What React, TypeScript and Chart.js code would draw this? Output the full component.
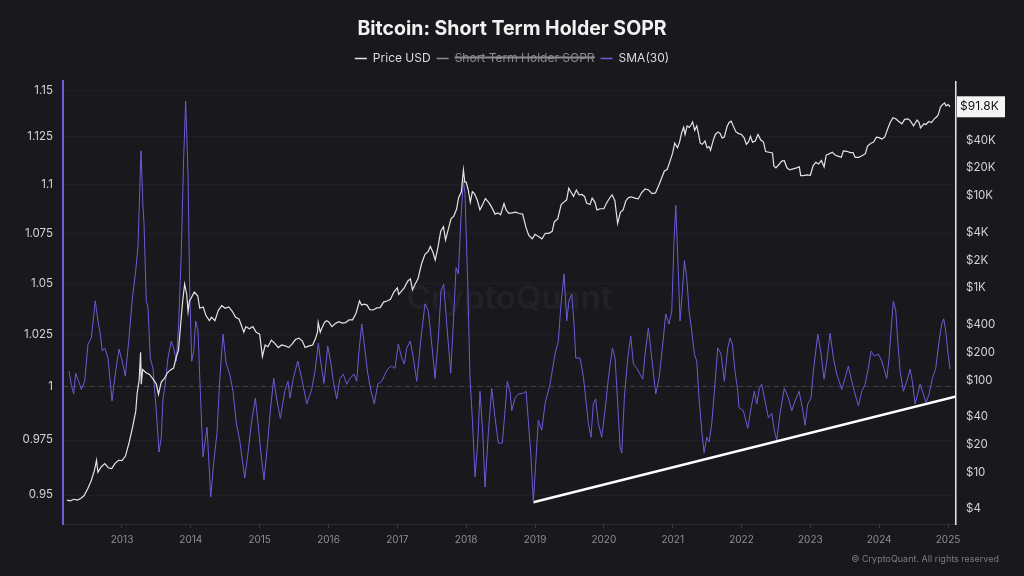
import React, { useEffect, useRef } from 'react';
import { Chart, registerables } from 'chart.js';

Chart.register(...registerables);

const TITLE = 'Bitcoin: Short Term Holder SOPR';
const LEGEND_PRICE = 'Price USD';
const LEGEND_SOPR = 'Short Term Holder SOPR';
const LEGEND_SMA = 'SMA(30)';
const WATERMARK = 'CryptoQuant';
const CREDIT = '© CryptoQuant. All rights reserved';
const LAST_PRICE_LABEL = '$91.8K';

const xTicks = [2013, 2014, 2015, 2016, 2017, 2018, 2019, 2020, 2021, 2022, 2023, 2024, 2025];
const soprTicks = [0.95, 0.975, 1, 1.025, 1.05, 1.075, 1.1, 1.125, 1.15];
const priceTicks = [4, 10, 20, 40, 100, 200, 400, 1000, 2000, 4000, 10000, 20000, 40000];

// Price USD (right, log axis)
const priceYears = [
  2012.20, 2012.25, 2012.30, 2012.35, 2012.40, 2012.45, 2012.50, 2012.55, 2012.60, 2012.63, 2012.65, 2012.70, 2012.75, 2012.80, 2012.85, 2012.90, 2012.95,
  2013.00, 2013.05, 2013.10, 2013.15, 2013.20, 2013.22, 2013.25, 2013.27, 2013.28, 2013.30, 2013.35, 2013.40, 2013.45, 2013.50, 2013.53, 2013.57, 2013.62, 2013.66, 2013.70, 2013.75, 2013.79, 2013.82, 2013.85, 2013.88, 2013.91, 2013.94, 2013.96, 2013.98,
  2014.00, 2014.05, 2014.10, 2014.13, 2014.18, 2014.22, 2014.27, 2014.30, 2014.35, 2014.40, 2014.45, 2014.50, 2014.55, 2014.60, 2014.65, 2014.70, 2014.73, 2014.77, 2014.80, 2014.85, 2014.90, 2014.95,
  2015.00, 2015.04, 2015.08, 2015.12, 2015.17, 2015.22, 2015.27, 2015.32, 2015.37, 2015.42, 2015.47, 2015.52, 2015.57, 2015.62, 2015.66, 2015.72, 2015.77, 2015.81, 2015.84, 2015.85, 2015.88, 2015.90, 2015.94, 2015.97,
  2016.00, 2016.05, 2016.10, 2016.15, 2016.20, 2016.25, 2016.30, 2016.35, 2016.40, 2016.45, 2016.48, 2016.52, 2016.56, 2016.60, 2016.65, 2016.70, 2016.75, 2016.80, 2016.85, 2016.90, 2016.95,
  2017.00, 2017.02, 2017.06, 2017.10, 2017.15, 2017.19, 2017.22, 2017.26, 2017.30, 2017.35, 2017.40, 2017.45, 2017.48, 2017.52, 2017.55, 2017.59, 2017.63, 2017.67, 2017.70, 2017.74, 2017.78, 2017.82, 2017.86, 2017.89, 2017.93, 2017.96, 2017.98,
  2018.00, 2018.03, 2018.06, 2018.09, 2018.12, 2018.16, 2018.20, 2018.24, 2018.28, 2018.33, 2018.37, 2018.42, 2018.46, 2018.50, 2018.55, 2018.58, 2018.62, 2018.67, 2018.72, 2018.77, 2018.82, 2018.87, 2018.91, 2018.96,
  2019.00, 2019.05, 2019.10, 2019.15, 2019.20, 2019.25, 2019.28, 2019.33, 2019.38, 2019.42, 2019.46, 2019.49, 2019.52, 2019.56, 2019.60, 2019.64, 2019.68, 2019.72, 2019.75, 2019.80, 2019.83, 2019.87, 2019.90, 2019.95,
  2020.00, 2020.04, 2020.08, 2020.12, 2020.16, 2020.20, 2020.24, 2020.28, 2020.32, 2020.36, 2020.40, 2020.45, 2020.50, 2020.55, 2020.60, 2020.65, 2020.70, 2020.75, 2020.80, 2020.84, 2020.88, 2020.92, 2020.96,
  2021.00, 2021.03, 2021.07, 2021.10, 2021.13, 2021.16, 2021.18, 2021.21, 2021.24, 2021.27, 2021.29, 2021.32, 2021.35, 2021.38, 2021.40, 2021.43, 2021.47, 2021.50, 2021.53, 2021.55, 2021.59, 2021.62, 2021.66, 2021.69, 2021.72, 2021.75, 2021.79, 2021.82, 2021.85, 2021.88, 2021.92, 2021.96,
  2022.00, 2022.04, 2022.07, 2022.10, 2022.13, 2022.16, 2022.20, 2022.24, 2022.28, 2022.32, 2022.35, 2022.40, 2022.45, 2022.47, 2022.50, 2022.55, 2022.58, 2022.62, 2022.66, 2022.70, 2022.75, 2022.80, 2022.84, 2022.86, 2022.90, 2022.95,
  2023.00, 2023.04, 2023.08, 2023.12, 2023.16, 2023.20, 2023.23, 2023.28, 2023.32, 2023.36, 2023.40, 2023.45, 2023.48, 2023.53, 2023.58, 2023.62, 2023.65, 2023.70, 2023.75, 2023.80, 2023.83, 2023.88, 2023.92, 2023.96,
  2024.00, 2024.04, 2024.08, 2024.12, 2024.16, 2024.20, 2024.24, 2024.28, 2024.33, 2024.37, 2024.42, 2024.45, 2024.50, 2024.55, 2024.58, 2024.60, 2024.65, 2024.68, 2024.72, 2024.76, 2024.80, 2024.84, 2024.86, 2024.89, 2024.92, 2024.95, 2024.97, 2025.00, 2025.03,
];
const priceUsd = [
  5.0, 4.9, 5.1, 5.0, 5.2, 5.6, 6.6, 8.0, 10.5, 13.5, 10.0, 11.5, 12.4, 11.2, 11.0, 12.5, 13.5,
  13.4, 15, 20.5, 30, 46, 72, 100, 200, 90, 130, 120, 115, 103, 90, 70, 95, 105, 120, 128, 135, 180, 210, 380, 700, 1100, 850, 550, 720,
  760, 900, 820, 600, 620, 500, 440, 480, 440, 570, 640, 600, 620, 560, 480, 460, 400, 330, 380, 360, 380, 330,
  315, 180, 240, 230, 270, 250, 225, 240, 235, 225, 245, 275, 285, 265, 225, 235, 240, 280, 330, 420, 330, 360, 420, 440,
  430, 380, 410, 430, 415, 420, 450, 450, 530, 720, 650, 665, 650, 580, 575, 605, 610, 700, 720, 750, 900,
  1000, 850, 920, 1000, 1180, 1250, 950, 1100, 1250, 1800, 2300, 2500, 2800, 2400, 2000, 2750, 4100, 4600, 3300, 4300, 5600, 6000, 7100, 9500, 11000, 19000, 14000,
  14000, 11500, 8500, 11000, 10500, 9000, 7000, 8000, 9300, 8400, 7500, 6300, 6500, 6200, 8200, 7000, 6400, 6500, 6600, 6400, 6300, 4500, 3700, 3400,
  3800, 3600, 3400, 3900, 3900, 4100, 5200, 5600, 8000, 8500, 9000, 12000, 11000, 9800, 11500, 10200, 10300, 9800, 8300, 8000, 9400, 8500, 7000, 7200,
  7200, 8300, 9300, 10200, 8800, 5000, 6600, 7000, 8800, 9500, 9700, 9400, 9200, 10800, 11800, 11500, 10500, 10700, 13000, 15500, 18500, 19200, 23500,
  29000, 37000, 33000, 38000, 48000, 55000, 46000, 57000, 55000, 59000, 63000, 51000, 57000, 45000, 37000, 36000, 39000, 33000, 34000, 31000, 40000, 46000, 49000, 47000, 42000, 43000, 56000, 62000, 64000, 57000, 49000, 47000,
  46000, 42000, 36000, 38000, 44000, 38000, 39000, 46000, 40000, 38000, 30000, 29500, 29000, 21000, 20000, 22000, 23500, 24000, 20000, 19000, 19500, 20000, 20500, 16500, 16500, 16800,
  16600, 21000, 23000, 22000, 24000, 20500, 27500, 28500, 29500, 27500, 26800, 26000, 30500, 30200, 29200, 29300, 26000, 26000, 27000, 28500, 34500, 37000, 38000, 43000,
  42500, 41000, 43000, 52000, 62000, 70000, 68000, 64000, 60000, 67000, 68000, 65000, 57000, 66000, 62000, 54000, 60000, 59000, 63500, 62000, 68000, 72000, 76000, 91000, 97000, 101000, 94000, 97000, 91800,
];

// SMA(30) of Short Term Holder SOPR (left, log axis)
const smaYears = [
  2012.230, 2012.263, 2012.298, 2012.327, 2012.385, 2012.409, 2012.458, 2012.506, 2012.554, 2012.612,
  2012.651, 2012.685, 2012.714, 2012.749, 2012.797, 2012.855, 2012.908, 2012.956, 2013.004, 2013.048,
  2013.102, 2013.150, 2013.199, 2013.232, 2013.276, 2013.305, 2013.320, 2013.353, 2013.378, 2013.411,
  2013.450, 2013.498, 2013.538, 2013.571, 2013.596, 2013.625, 2013.668, 2013.716, 2013.751, 2013.789,
  2013.824, 2013.862, 2013.896, 2013.925, 2013.959, 2013.984, 2014.013, 2014.042, 2014.071, 2014.104,
  2014.138, 2014.177, 2014.235, 2014.289, 2014.332, 2014.380, 2014.419, 2014.467, 2014.515, 2014.565,
  2014.613, 2014.661, 2014.710, 2014.783, 2014.831, 2014.879, 2014.937, 2014.976, 2015.024, 2015.063,
  2015.107, 2015.155, 2015.204, 2015.252, 2015.300, 2015.364, 2015.412, 2015.441, 2015.489, 2015.553,
  2015.611, 2015.684, 2015.756, 2015.804, 2015.852, 2015.891, 2015.935, 2015.989, 2016.037, 2016.070,
  2016.119, 2016.167, 2016.215, 2016.265, 2016.313, 2016.371, 2016.410, 2016.443, 2016.483, 2016.531,
  2016.570, 2016.618, 2016.666, 2016.715, 2016.773, 2016.821, 2016.869, 2016.918, 2016.966, 2017.014,
  2017.064, 2017.102, 2017.136, 2017.189, 2017.232, 2017.282, 2017.344, 2017.402, 2017.450, 2017.500,
  2017.548, 2017.596, 2017.635, 2017.674, 2017.718, 2017.776, 2017.813, 2017.853, 2017.886, 2017.925,
  2017.959, 2017.983, 2018.023, 2018.056, 2018.089, 2018.129, 2018.168, 2018.201, 2018.241, 2018.274,
  2018.322, 2018.371, 2018.419, 2018.467, 2018.525, 2018.565, 2018.598, 2018.637, 2018.662, 2018.710,
  2018.758, 2018.831, 2018.870, 2018.903, 2018.942, 2018.976, 2019.011, 2019.048, 2019.098, 2019.146,
  2019.218, 2019.291, 2019.339, 2019.378, 2019.422, 2019.461, 2019.494, 2019.534, 2019.567, 2019.592,
  2019.654, 2019.702, 2019.741, 2019.775, 2019.814, 2019.847, 2019.882, 2019.920, 2019.969, 2020.017,
  2020.066, 2020.124, 2020.163, 2020.202, 2020.235, 2020.260, 2020.298, 2020.347, 2020.391, 2020.429,
  2020.478, 2020.526, 2020.565, 2020.599, 2020.647, 2020.696, 2020.754, 2020.802, 2020.850, 2020.899,
  2020.947, 2020.987, 2021.020, 2021.045, 2021.074, 2021.107, 2021.141, 2021.170, 2021.205, 2021.238,
  2021.277, 2021.315, 2021.350, 2021.383, 2021.422, 2021.456, 2021.495, 2021.529, 2021.568, 2021.606,
  2021.655, 2021.703, 2021.751, 2021.800, 2021.834, 2021.867, 2021.906, 2021.946, 2021.964, 2022.027,
  2022.091, 2022.139, 2022.187, 2022.222, 2022.259, 2022.294, 2022.342, 2022.390, 2022.440, 2022.477,
  2022.512, 2022.560, 2022.622, 2022.681, 2022.730, 2022.778, 2022.836, 2022.884, 2022.923, 2022.963,
  2023.010, 2023.044, 2023.108, 2023.156, 2023.199, 2023.239, 2023.287, 2023.335, 2023.384, 2023.457,
  2023.504, 2023.552, 2023.602, 2023.650, 2023.698, 2023.747, 2023.795, 2023.843, 2023.882, 2023.930,
  2023.988, 2024.038, 2024.110, 2024.144, 2024.183, 2024.206, 2024.241, 2024.270, 2024.304, 2024.352,
  2024.401, 2024.449, 2024.482, 2024.521, 2024.561, 2024.594, 2024.642, 2024.681, 2024.725, 2024.773,
  2024.822, 2024.870, 2024.909, 2024.938, 2024.967, 2024.996, 2025.030,
];
const smaValues = [
  1.0072, 1.0010, 0.9964, 1.0062, 1.0010, 0.9986, 1.0024, 1.0202, 1.0231, 1.0412,
  1.0314, 1.0250, 1.0168, 1.0183, 1.0135, 0.9932, 1.0072, 1.0178, 1.0120, 1.0048,
  1.0231, 1.0422, 1.0561, 1.0679, 1.1177, 1.0883, 1.0801, 1.0412, 1.0378, 1.0135,
  1.0086, 0.9886, 0.9695, 0.9763, 0.9945, 1.0000, 1.0135, 1.0216, 1.0183, 1.0120,
  1.0299, 1.0663, 1.1141, 1.1441, 1.1057, 1.0461, 1.0120, 1.0168, 1.0314, 1.0265,
  0.9977, 0.9673, 0.9809, 0.9491, 0.9645, 0.9782, 1.0024, 1.0250, 1.0106, 1.0058,
  0.9977, 0.9827, 0.9750, 0.9577, 0.9691, 0.9827, 0.9945, 0.9827, 0.9673, 0.9568,
  0.9705, 0.9886, 1.0038, 0.9932, 0.9850, 0.9977, 1.0024, 0.9945, 1.0038, 1.0120,
  1.0038, 0.9918, 0.9986, 1.0072, 1.0207, 1.0106, 1.0014, 1.0192, 1.0106, 1.0024,
  0.9941, 1.0038, 1.0058, 1.0010, 1.0038, 1.0058, 1.0024, 1.0168, 1.0299, 1.0168,
  1.0062, 0.9977, 0.9918, 1.0010, 1.0024, 1.0058, 1.0086, 1.0096, 1.0086, 1.0202,
  1.0135, 1.0106, 1.0183, 1.0216, 1.0135, 1.0024, 1.0231, 1.0397, 1.0363, 1.0202,
  1.0038, 1.0231, 1.0461, 1.0495, 1.0299, 1.0062, 1.0299, 1.0577, 1.0546, 1.0832,
  1.1021, 1.0954, 1.0495, 1.0038, 0.9854, 0.9582, 0.9736, 0.9977, 0.9782, 0.9536,
  0.9782, 0.9991, 0.9854, 0.9736, 0.9736, 0.9886, 1.0024, 0.9977, 0.9886, 0.9945,
  0.9964, 0.9968, 0.9977, 0.9841, 0.9673, 0.9468, 0.9645, 0.9841, 0.9795, 0.9918,
  1.0010, 1.0154, 1.0216, 1.0397, 1.0546, 1.0314, 1.0412, 1.0446, 1.0299, 1.0135,
  1.0135, 1.0048, 0.9932, 0.9827, 0.9763, 0.9918, 0.9941, 0.9827, 0.9763, 0.9886,
  1.0038, 1.0183, 1.0135, 0.9918, 0.9718, 0.9691, 0.9945, 1.0135, 1.0240, 1.0106,
  1.0086, 1.0058, 1.0034, 1.0154, 1.0280, 1.0135, 0.9964, 1.0038, 1.0183, 1.0348,
  1.0299, 1.0363, 1.0714, 1.0893, 1.0628, 1.0314, 1.0461, 1.0612, 1.0525, 1.0363,
  1.0265, 1.0154, 1.0120, 0.9945, 0.9795, 0.9691, 0.9763, 0.9741, 0.9827, 0.9977,
  1.0183, 1.0154, 1.0024, 1.0183, 1.0231, 1.0202, 1.0072, 0.9977, 0.9900, 0.9886,
  0.9804, 0.9900, 0.9977, 0.9918, 0.9991, 1.0010, 0.9932, 0.9854, 0.9873, 0.9795,
  0.9750, 0.9873, 0.9991, 0.9945, 0.9886, 0.9932, 0.9977, 0.9900, 0.9818, 0.9918,
  0.9945, 1.0072, 1.0250, 1.0154, 1.0034, 1.0120, 1.0255, 1.0135, 1.0058, 0.9986,
  1.0038, 1.0096, 1.0024, 0.9964, 0.9909, 0.9977, 1.0010, 1.0086, 1.0168, 1.0144,
  1.0154, 1.0120, 1.0038, 1.0135, 1.0314, 1.0412, 1.0363, 1.0216, 1.0072, 0.9977,
  1.0024, 1.0082, 1.0024, 0.9918, 0.9964, 1.0010, 0.9964, 0.9923, 0.9964, 1.0038,
  1.0086, 1.0216, 1.0299, 1.0324, 1.0265, 1.0168, 1.0082,
];

// hand-drawn support trend line (SOPR axis)
const trendYears = [2018.976, 2025.116];
const trendValues = [0.9468, 0.9953];

const X_MIN = 2012.143;
const X_MAX = 2025.116;
const SOPR_MIN = 0.9371;
const SOPR_MAX = 1.1549;
const PRICE_MIN = 2.75;
const PRICE_MAX = 173000;

const BG = '#18181d';
const FONT = 'Inter, "Noto Sans", sans-serif';

const fmtSopr = (v: number) => String(Number(v.toFixed(3)));
const fmtPrice = (v: number) => (v >= 1000 ? `$${v / 1000}K` : `$${v}`);

const legendSpacer = {
  id: 'legendSpacer',
  beforeLayout(chart: any) {
    const lg = chart.legend;
    if (lg && !lg.__spaced) {
      const orig = lg.fit.bind(lg);
      lg.fit = function () {
        orig();
        this.height += 7;
      };
      lg.__spaced = true;
    }
  },
};

const decorPlugin = {
  id: 'decor',
  beforeDatasetsDraw(chart: any) {
    const { ctx, chartArea: a, scales } = chart;
    ctx.save();
    ctx.font = `600 33px ${FONT}`;
    ctx.fillStyle = 'rgba(255,255,255,0.045)';
    ctx.textAlign = 'center';
    ctx.textBaseline = 'middle';
    ctx.fillText(WATERMARK, (a.left + a.right) / 2, (a.top + a.bottom) / 2 - 4);
    const y1 = scales.y.getPixelForValue(1);
    ctx.setLineDash([5, 4]);
    ctx.strokeStyle = 'rgba(255,255,255,0.16)';
    ctx.lineWidth = 1;
    ctx.beginPath();
    ctx.moveTo(a.left, y1);
    ctx.lineTo(a.right, y1);
    ctx.stroke();
    ctx.restore();
  },
  afterDraw(chart: any) {
    const { ctx, chartArea: a, scales } = chart;
    ctx.save();
    const y = scales.y2.getPixelForValue(priceUsd[priceUsd.length - 1]);
    ctx.fillStyle = '#f5f5f5';
    ctx.fillRect(a.right + 1, y - 10.5, 48, 21);
    ctx.fillStyle = '#111';
    ctx.font = `12px ${FONT}`;
    ctx.textAlign = 'left';
    ctx.textBaseline = 'middle';
    ctx.fillText(LAST_PRICE_LABEL, a.right + 4, y);
    ctx.fillStyle = '#7c7c80';
    ctx.font = `9px ${FONT}`;
    ctx.textAlign = 'right';
    ctx.fillText(CREDIT, 999, 559);
    ctx.restore();
  },
};

export default function App() {
  const ref = useRef<HTMLCanvasElement | null>(null);
  useEffect(() => {
    document.body.style.margin = '0';
    document.body.style.background = BG;
    const canvas = ref.current;
    if (!canvas) return;
    const chart = new Chart(canvas, {
      type: 'line',
      data: {
        datasets: [
          {
            label: LEGEND_PRICE,
            data: priceYears.map((x, i) => ({ x, y: priceUsd[i] })),
            yAxisID: 'y2',
            borderColor: '#e4e4e4',
            borderWidth: 1.2,
            pointRadius: 0,
            tension: 0,
          },
          {
            label: LEGEND_SOPR,
            data: [],
            yAxisID: 'y',
            hidden: true,
            borderColor: '#8a8a8a',
            borderWidth: 1.2,
            pointRadius: 0,
          },
          {
            label: LEGEND_SMA,
            data: smaYears.map((x, i) => ({ x, y: smaValues[i] })),
            yAxisID: 'y',
            borderColor: '#6a5dd6',
            borderWidth: 1,
            pointRadius: 0,
            tension: 0,
          },
          {
            label: 'trend',
            data: trendYears.map((x, i) => ({ x, y: trendValues[i] })),
            yAxisID: 'y',
            borderColor: '#ffffff',
            borderWidth: 2.5,
            pointRadius: 0,
          },
        ],
      },
      options: {
        responsive: false,
        animation: false,
        events: [],
        layout: { padding: { top: 5, left: 0, right: 0, bottom: 0 } },
        plugins: {
          tooltip: { enabled: false },
          title: {
            display: true,
            text: TITLE,
            color: '#f2f2f2',
            font: { family: FONT, size: 19.5, weight: 'bold' },
            padding: { top: 12, bottom: 6 },
          },
          legend: {
            display: true,
            labels: {
              color: '#dcdcdc',
              font: { family: FONT, size: 12 },
              usePointStyle: true,
              pointStyle: 'line',
              pointStyleWidth: 12,
              padding: 6,
              filter: (item: any) => item.datasetIndex < 3,
              generateLabels: (chart: any) => {
                const items = (Chart as any).defaults.plugins.legend.labels.generateLabels(chart);
                return items.map((it: any) => ({
                  ...it,
                  lineWidth: 1.5,
                  fontColor: it.hidden ? '#8c8c8c' : '#dcdcdc',
                  strokeStyle: it.hidden ? '#8c8c8c' : it.strokeStyle,
                }));
              },
            },
          },
        },
        scales: {
          x: {
            type: 'linear',
            min: X_MIN,
            max: X_MAX,
            afterBuildTicks: (s: any) => {
              s.ticks = xTicks.map((v) => ({ value: v }));
            },
            afterFit: (s: any) => {
              s.height = 52;
            },
            ticks: {
              color: '#8e8e92',
              font: { family: FONT, size: 10 },
              padding: 6,
              autoSkip: false,
              maxRotation: 0,
              callback: (v: any) => String(v),
            },
            grid: { drawOnChartArea: false, drawTicks: true, tickLength: 4, color: '#3a3a40' },
            border: { color: '#2c2c32', width: 1 },
          },
          y: {
            type: 'logarithmic',
            position: 'left',
            min: SOPR_MIN,
            max: SOPR_MAX,
            afterBuildTicks: (s: any) => {
              s.ticks = soprTicks.map((v) => ({ value: v }));
            },
            afterFit: (s: any) => {
              s.width = 63;
            },
            ticks: {
              color: '#d2d2d6',
              font: { family: FONT, size: 11.5 },
              padding: 10,
              autoSkip: false,
              callback: (v: any) => fmtSopr(Number(v)),
            },
            grid: { drawOnChartArea: true, drawTicks: false, color: 'rgba(255,255,255,0.035)' },
            border: { color: '#6a5dd6', width: 2 },
          },
          y2: {
            type: 'logarithmic',
            position: 'right',
            min: PRICE_MIN,
            max: PRICE_MAX,
            afterBuildTicks: (s: any) => {
              s.ticks = priceTicks.map((v) => ({ value: v }));
            },
            afterFit: (s: any) => {
              s.width = 68;
            },
            ticks: {
              color: '#d2d2d6',
              font: { family: FONT, size: 11.5 },
              padding: 10,
              autoSkip: false,
              callback: (v: any) => fmtPrice(Number(v)),
            },
            grid: { drawOnChartArea: false, drawTicks: false, color: 'rgba(0,0,0,0)' },
            border: { color: '#e8e8e8', width: 1.5 },
          },
        },
      },
      plugins: [legendSpacer, decorPlugin],
    });
    return () => chart.destroy();
  }, []);
  return (
    <div style={{ width: 1024, height: 576, background: BG }}>
      <canvas ref={ref} width={1024} height={576} style={{ display: 'block' }} />
    </div>
  );
}
